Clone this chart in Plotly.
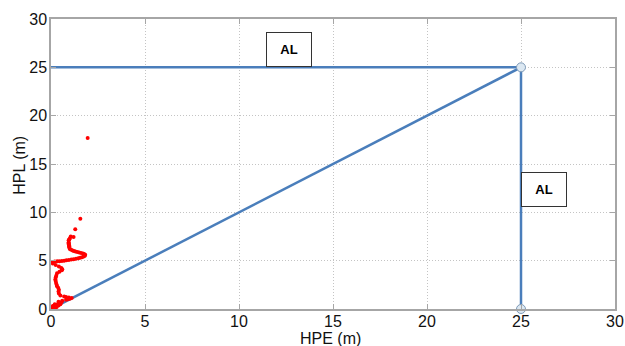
import plotly.graph_objects as go

# Red scatter: (HPE, HPL) samples
hpe = [0.02, 0.1, 0.2, 0.3, 0.15, 0.4, 0.25, 0.1, 0.5, 0.35, 0.2, 0.55, 0.4, 0.6, 0.8,
       0.9, 1.0, 1.1, 0.95, 0.8, 0.7, 0.5, 0.42, 0.4, 0.42, 0.38, 0.32, 0.3, 0.27, 0.25,
       0.23, 0.25, 0.28, 0.32, 0.45, 0.58, 0.6, 0.55, 0.42, 0.25, 0.1, 0.05, 0.2, 0.33,
       0.45, 0.58, 0.7, 0.82, 0.95, 1.08, 1.2, 1.33, 1.45, 1.55, 1.65, 1.74, 1.8, 1.82,
       1.76, 1.7, 1.6, 1.5, 1.4, 1.3, 1.22, 1.15, 1.07, 1.0, 0.97, 0.97, 0.96, 0.95, 0.94,
       0.94, 0.94, 0.97, 1.0, 1.05, 1.2, 1.29, 1.56, 1.95]
hpl = [0.02, 0.05, 0.1, 0.2, 0.2, 0.35, 0.35, 0.3, 0.5, 0.5, 0.5, 0.7, 0.75, 0.85, 0.95,
       1.0, 1.05, 1.15, 1.2, 1.25, 1.3, 1.4, 1.6, 1.8, 2.0, 2.2, 2.35, 2.5, 2.7, 2.9,
       3.05, 3.25, 3.45, 3.7, 3.85, 4.0, 4.1, 4.25, 4.4, 4.55, 4.7, 4.85, 4.92, 4.93,
       4.95, 4.97, 5.0, 5.04, 5.08, 5.12, 5.15, 5.2, 5.25, 5.3, 5.35, 5.42, 5.5, 5.62,
       5.7, 5.75, 5.8, 5.85, 5.9, 5.95, 6.0, 6.05, 6.12, 6.2, 6.35, 6.5, 6.6, 6.7, 6.8,
       6.9, 7.1, 7.2, 7.3, 7.5, 7.45, 8.25, 9.34, 17.7]

# Alert limit and the diagonal
al = 25
diag_x = [0, al]
diag_y = [0, al]
hline_x = [0, al]
hline_y = [al, al]
vline_x = [al, al]
vline_y = [0, al]
corner_x = [al, al]
corner_y = [al, 0]

ticks = [0, 5, 10, 15, 20, 25, 30]

font = "Arial, Liberation Sans, Helvetica, sans-serif"
blue = "#4a7ebb"
fig = go.Figure()
for xs, ys in [(diag_x, diag_y), (hline_x, hline_y), (vline_x, vline_y)]:
    fig.add_trace(go.Scatter(x=xs, y=ys, mode="lines",
                             line=dict(color=blue, width=2.5),
                             showlegend=False, hoverinfo="skip"))
fig.add_trace(go.Scatter(x=hpe, y=hpl, mode="markers",
                         marker=dict(color="#ff0000", size=4),
                         showlegend=False))
fig.add_trace(go.Scatter(x=corner_x, y=corner_y, mode="markers",
                         marker=dict(color="#dce8f2", size=9,
                                     line=dict(color="#7f9bb8", width=1)),
                         showlegend=False, cliponaxis=False))

for ax_, ay_ in [(12.67, 26.85), (26.21, 12.34)]:
    fig.add_annotation(x=ax_, y=ay_, text="<b>AL</b>", showarrow=False,
                       font=dict(family=font, size=13, color="#000"),
                       bgcolor="white", bordercolor="#333", borderwidth=1,
                       width=42, height=31)

# Axis titles
fig.add_annotation(xref="paper", yref="paper", x=0.495, y=-0.1, text="HPE (m)",
                   showarrow=False, xanchor="center", yanchor="middle",
                   font=dict(family=font, size=16, color="#111"))
fig.add_annotation(xref="paper", yref="paper", x=-0.055, y=0.497, text="HPL (m)",
                   showarrow=False, xanchor="center", yanchor="middle", textangle=-90,
                   font=dict(family=font, size=16, color="#111"))

axis_common = dict(range=[0, 30], tickvals=ticks, ticktext=[str(t) for t in ticks],
                   showgrid=True, gridcolor="#c4c4c4", griddash="1px,2px", gridwidth=1,
                   showline=True, linecolor="#a6a6a6", linewidth=1.5, mirror="ticks",
                   ticks="inside", ticklen=5, tickcolor="#a6a6a6",
                   tickfont=dict(family=font, size=16, color="#111"),
                   zeroline=False, fixedrange=True, automargin=False)

fig.update_layout(
    width=625, height=346,
    margin=dict(l=51, r=10, t=19, b=37),
    paper_bgcolor="white", plot_bgcolor="white",
    xaxis=dict(**axis_common, ticklabelstandoff=-3),
    yaxis=dict(**axis_common, ticklabelstandoff=-1),
)

# Remove the default page margin so the figure fills the window exactly.
fig.write_html("out.html", default_width="625px", default_height="346px",
               config={"displayModeBar": False},
               post_script="document.body.style.margin='0';")
